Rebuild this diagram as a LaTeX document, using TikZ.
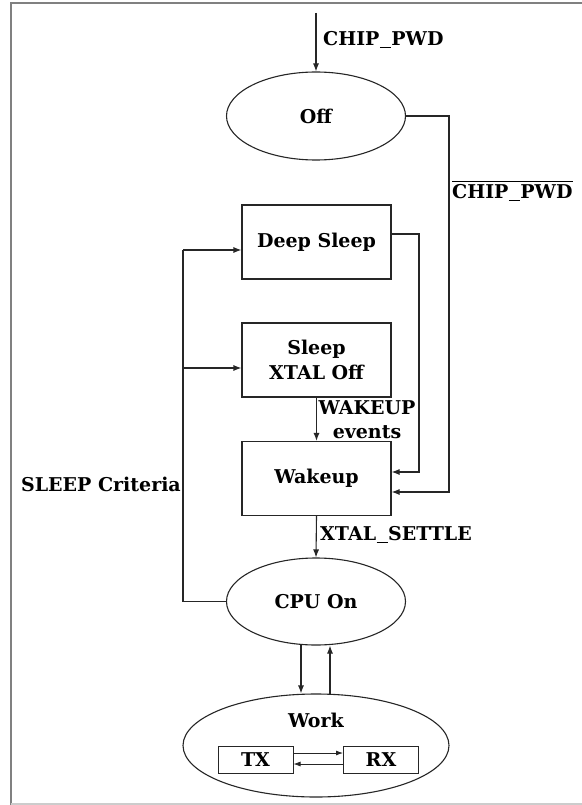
\documentclass[tikz,border=0pt]{standalone}
\usepackage{fontspec}
\setmainfont{DejaVu Serif}
\usetikzlibrary{shapes.geometric,arrows.meta}
\newcommand{\wus}{\kern0.5pt\rule[-2.5pt]{11pt}{1.4pt}\kern0.5pt}
\begin{document}
\begin{tikzpicture}[x=1pt,y=-1pt,
  lbl/.style={font=\fontsize{19}{24}\selectfont\bfseries, inner sep=0pt},
  state/.style={draw=black!85, line width=1.1pt, ellipse, inner sep=0pt, font=\fontsize{19}{24}\selectfont\bfseries},
  box/.style={draw=black!85, line width=1.1pt, rectangle, inner sep=0pt, minimum width=149pt, minimum height=74pt, align=center, font=\fontsize{19}{25}\selectfont\bfseries},
  sbox/.style={draw=black!85, line width=1pt, rectangle, inner sep=0pt, minimum width=75pt, minimum height=27pt, font=\fontsize{19}{24}\selectfont\bfseries},
  arr/.style={draw=black!85, line width=1.1pt, -{Latex[length=8pt,width=6pt]}},
  ln/.style={draw=black!85, line width=1.1pt}]
\useasboundingbox (0,0) rectangle (581,805);
\fill[white] (0,0) rectangle (581,805);
% frame
\draw[black!50, line width=2.5pt] (11,806) -- (11,3) -- (582,3);
\draw[black!20, line width=1.5pt] (11,804) -- (582,804);
% nodes
\node[state, minimum width=179pt, minimum height=88pt] (off) at (316,116) {Off};
\node[box] (ds) at (316.5,242) {Deep Sleep};
\node[box] (sl) at (316.5,360) {Sleep\\XTAL Off};
\node[box] (wk) at (316.5,478.5) {Wakeup};
\node[state, minimum width=179pt, minimum height=87pt] (cpu) at (316,601.5) {CPU On};
\node[state, minimum width=266pt, minimum height=103pt] (work) at (316,745.5) {};
\node[lbl] (worklbl) at (316,720) {Work};
\node[sbox] (tx) at (255.5,759.5) {TX};
\node[sbox] (rx) at (381,759.5) {RX};
% labels
\node[lbl, anchor=west] (l1) at (323,40) {CHIP\wus PWD};
\node[lbl, anchor=west] (l2) at (452,193) {CHIP\wus PWD};
\draw[black, line width=1pt] ([yshift=3pt]l2.north west) -- ([yshift=3pt]l2.north east);
\node[lbl, align=center] (l3) at (367,420) {WAKEUP\\events};
\node[lbl, anchor=west] (l4) at (320,535) {XTAL\wus SETTLE};
\node[lbl, anchor=east] (l5) at (181,484) {SLEEP Criteria};
% connectors
\coordinate (top) at (316,13);
\draw[arr] (top) -- (off.north);
\coordinate (c1) at (449,492);
\draw[arr] (off.east) -| (c1) -- (c1 -| wk.east);
\coordinate (c2) at (419,472);
\draw[arr] ([yshift=8pt]ds.east) -| (c2) -- (c2 -| wk.east);
\draw[arr] (sl.south) -- (wk.north);
\draw[arr] (wk.south) -- (cpu.north);
\coordinate (c4) at (183,250);
\coordinate (c5) at (183,368);
\draw[ln] (cpu.west) -| (c4);
\draw[arr] (c4) -- (c4 -| ds.west);
\draw[arr] (c5) -- (c5 -| sl.west);
\coordinate (d1) at (301,645);
\coordinate (d2) at (330,694);
\draw[arr] (d1) -- (d1 |- work.north);
\draw[arr] (d2) -- (d2 |- cpu.south);
\draw[arr, line width=0.8pt, -{Latex[length=7pt,width=5pt]}] ([yshift=6.5pt]tx.east) -- ([yshift=6.5pt]rx.west);
\draw[arr, line width=0.8pt, -{Latex[length=7pt,width=5pt]}] ([yshift=-4.5pt]rx.west) -- ([yshift=-4.5pt]tx.east);
\end{tikzpicture}
\end{document}
